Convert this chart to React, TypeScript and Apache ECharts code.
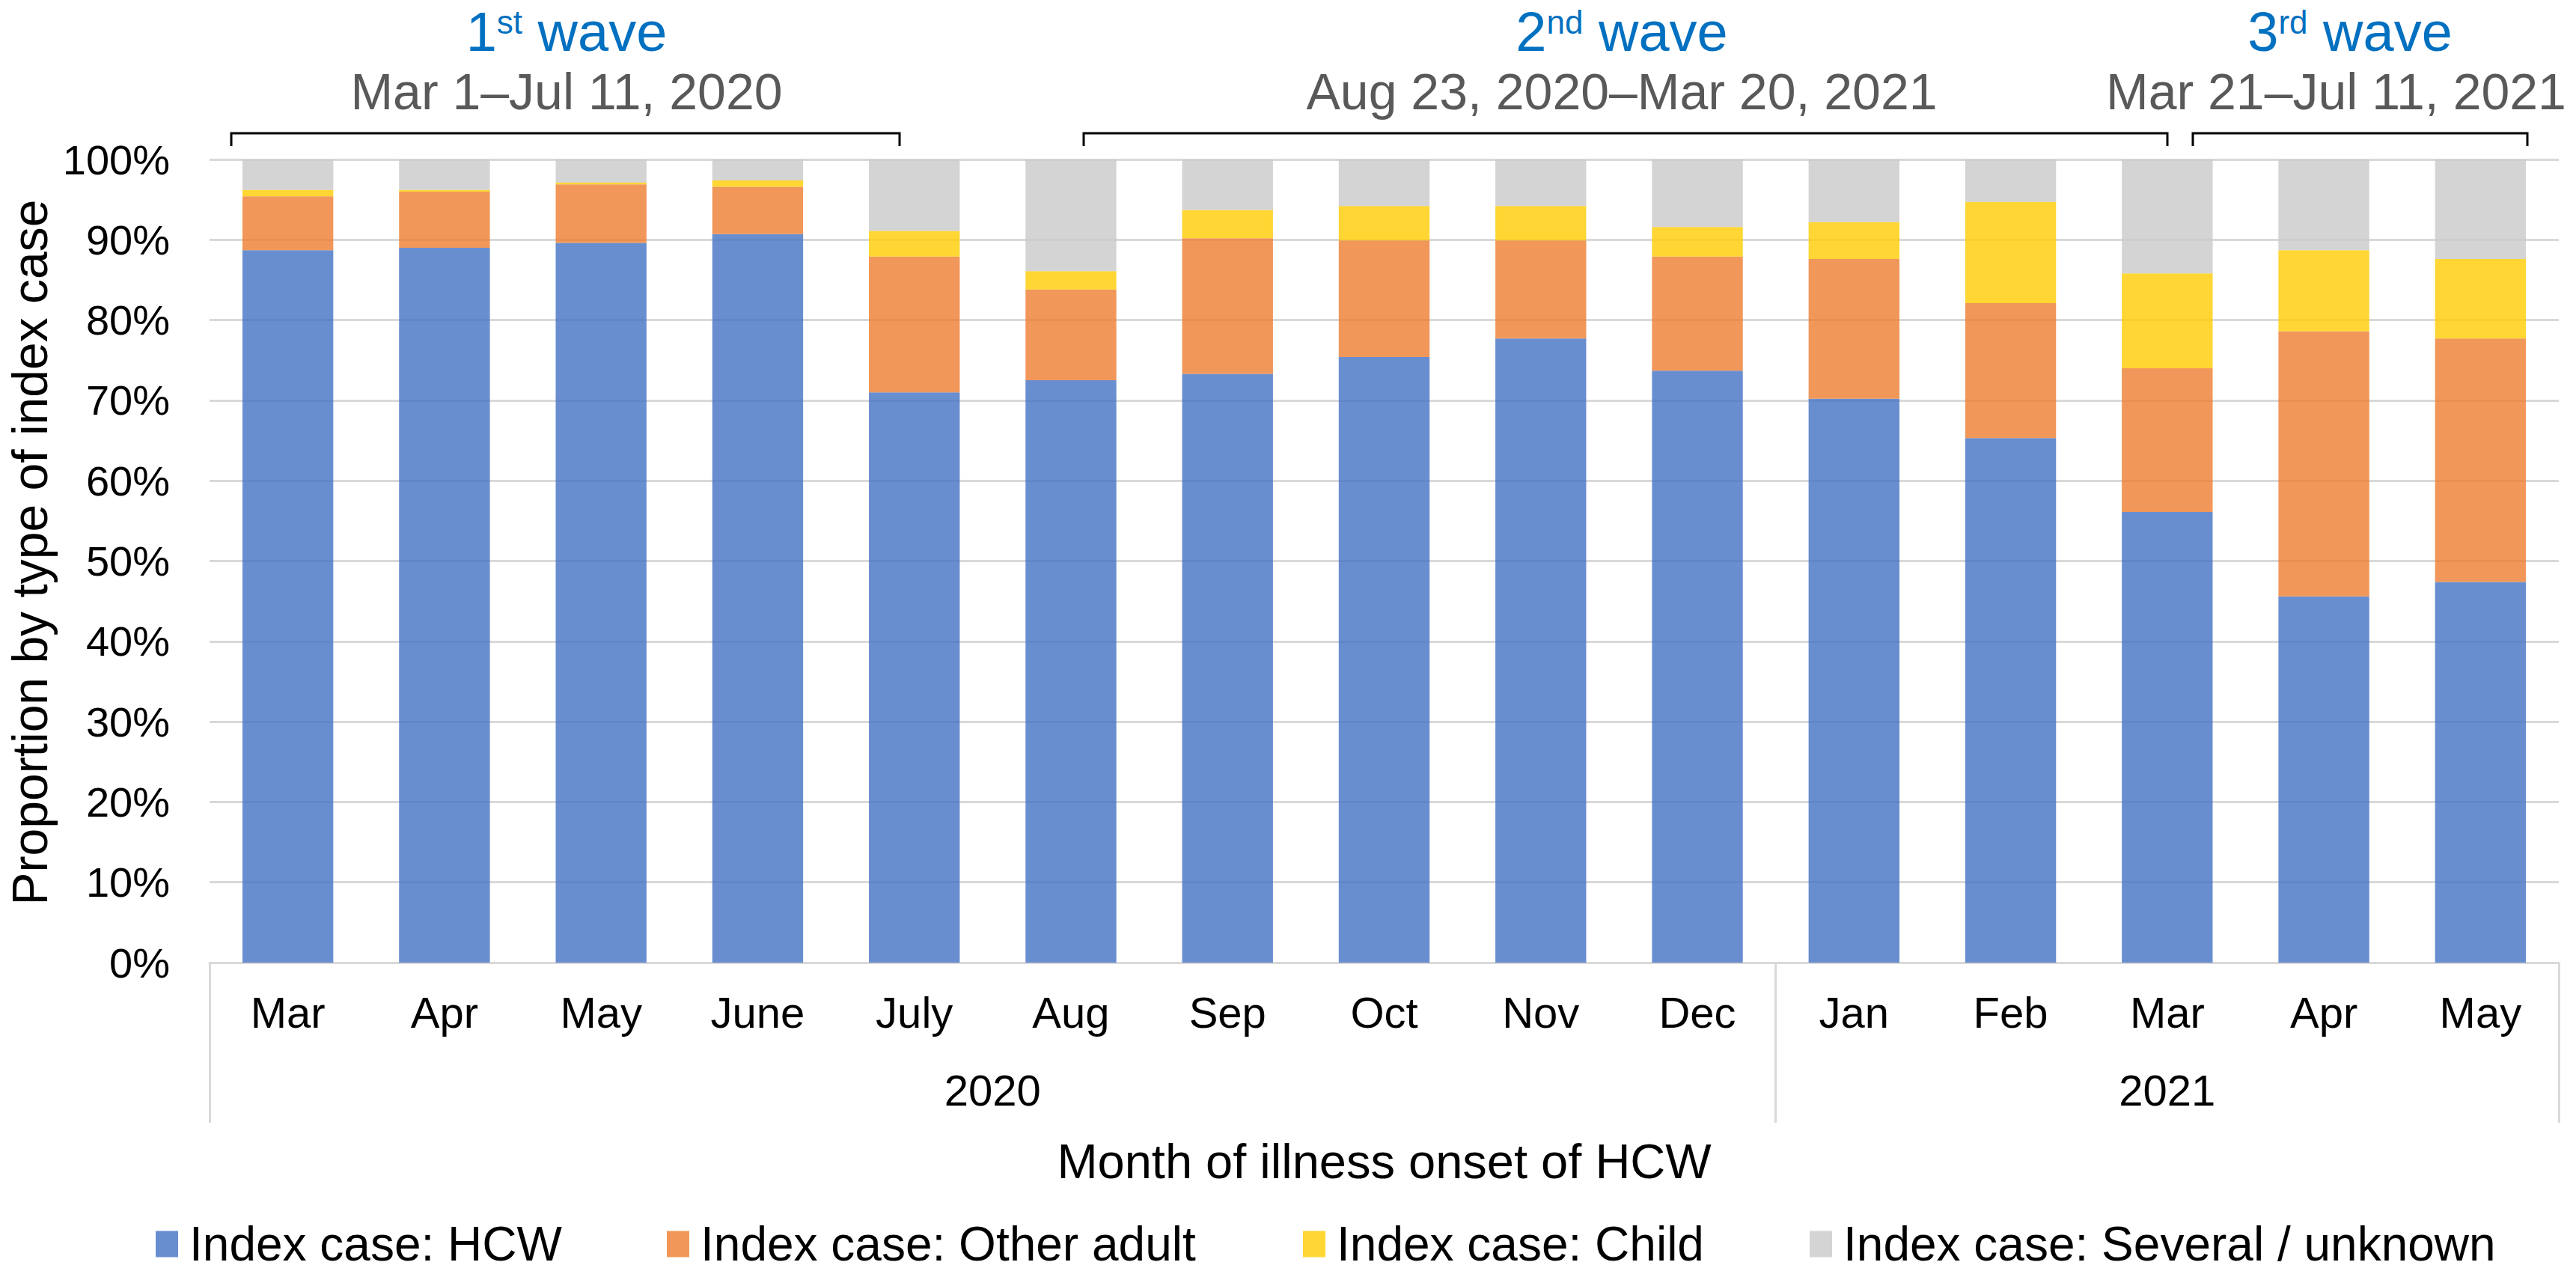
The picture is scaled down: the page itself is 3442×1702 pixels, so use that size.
import React, { useEffect, useRef } from "react";
import * as echarts from "echarts";

const FONT = "'Liberation Sans', Arial, Helvetica, sans-serif";

// Categories (month of illness onset) and their year grouping
const months = ["Mar", "Apr", "May", "June", "July", "Aug", "Sep", "Oct", "Nov", "Dec", "Jan", "Feb", "Mar", "Apr", "May"];
const yearLabels = ["2020", "2021"];
const monthsPerYear = [10, 5];

// Series values (percent of index cases)
const hcw = [88.7, 89.0, 89.6, 90.7, 71.0, 72.5, 73.3, 75.4, 77.7, 73.7, 70.2, 65.3, 56.1, 45.6, 47.4];
const otherAdult = [6.7, 7.0, 7.3, 5.9, 16.9, 11.3, 16.9, 14.5, 12.2, 14.2, 17.4, 16.8, 17.9, 33.0, 30.3];
const child = [0.8, 0.2, 0.2, 0.8, 3.2, 2.3, 3.5, 4.3, 4.3, 3.7, 4.6, 12.6, 11.8, 10.1, 9.9];
const severalUnknown = [3.8, 3.8, 2.9, 2.6, 8.9, 13.9, 6.3, 5.8, 5.8, 8.4, 7.8, 5.3, 14.2, 11.3, 12.4];

const seriesNames = ["Index case: HCW", "Index case: Other adult", "Index case: Child", "Index case: Several / unknown"];
const seriesColors = ["#4472C4", "#ED7D31", "#FFCC00", "#C9C9C9"];

const yTicks = { min: 0, max: 100, interval: 10 };
const xTitle = "Month of illness onset of HCW";
const yTitle = "Proportion by type of index case";

// Wave annotations
const waveOrdinals = ["1", "2", "3"];
const waveSuffixes = ["st", "nd", "rd"];
const waveRanges = ["Mar 1\u2013Jul 11, 2020", "Aug 23, 2020\u2013Mar 20, 2021", "Mar 21\u2013Jul 11, 2021"];

export default function App() {
  const ref = useRef<HTMLDivElement>(null);

  useEffect(() => {
    if (!ref.current) return;
    const chart = echarts.init(ref.current, null, { renderer: "svg" });

    // year group boundaries and centers on a 0..N value scale aligned to categories
    const bounds: number[] = [0];
    monthsPerYear.forEach((n) => bounds.push(bounds[bounds.length - 1] + n));
    const centers = monthsPerYear.map((n, i) => bounds[i] + n / 2);
    const total = bounds[bounds.length - 1];

    const data = [hcw, otherAdult, child, severalUnknown];

    const waveTitle = (i: number, x: number) => ({
      type: "text",
      x,
      y: 42,
      style: {
        text: `{n|${waveOrdinals[i]}}{s|${waveSuffixes[i]}}{n| wave}`,
        align: "center",
        verticalAlign: "middle",
        rich: {
          n: { fontSize: 74, lineHeight: 70, fontFamily: FONT, fill: "#0070C0" },
          s: { fontSize: 44, lineHeight: 44, fontFamily: FONT, fill: "#0070C0", verticalAlign: "top" },
        },
      },
    });
    const waveRange = (i: number, x: number, align: string) => ({
      type: "text",
      x,
      y: 122,
      style: {
        text: waveRanges[i],
        align,
        verticalAlign: "middle",
        fontSize: 68,
        fontFamily: FONT,
        fill: "#595959",
      },
    });
    const bracket = (x1: number, x2: number) => ({
      type: "polyline",
      shape: { points: [[x1, 195], [x1, 178], [x2, 178], [x2, 195]] },
      style: { stroke: "#000", lineWidth: 3, fill: null },
    });

    const legendLefts = [208, 891, 1741, 2418];

    const option: any = {
      animation: false,
      backgroundColor: "#fff",
      textStyle: { fontFamily: FONT },
      grid: { left: 280, right: 23, top: 213, bottom: 416 },
      xAxis: [
        {
          type: "category",
          data: months,
          axisTick: { show: false },
          axisLine: { show: true, lineStyle: { color: "#D9D9D9", width: 3 } },
          axisLabel: { interval: 0, fontSize: 58, color: "#000", margin: 37, fontFamily: FONT },
          name: xTitle,
          nameLocation: "middle",
          nameGap: 233,
          nameTextStyle: { fontSize: 65, color: "#000", fontFamily: FONT },
        },
        {
          type: "value",
          min: 0,
          max: total,
          position: "bottom",
          axisLine: { show: false },
          splitLine: { show: false },
          axisTick: {
            show: true,
            customValues: bounds,
            length: 214,
            lineStyle: { color: "#D9D9D9", width: 3 },
          },
          axisLabel: {
            customValues: centers,
            formatter: (v: number) => {
              const idx = centers.indexOf(v);
              return idx >= 0 ? yearLabels[idx] : "";
            },
            fontSize: 58,
            color: "#000",
            margin: 141,
            fontFamily: FONT,
          },
        },
      ],
      yAxis: {
        type: "value",
        min: yTicks.min,
        max: yTicks.max,
        interval: yTicks.interval,
        axisLine: { show: false },
        axisTick: { show: false },
        axisLabel: { formatter: "{value}%", fontSize: 56, color: "#000", margin: 53, fontFamily: FONT },
        splitLine: { show: true, lineStyle: { color: "#D9D9D9", width: 3 } },
      },
      legend: seriesNames.map((name, i) => ({
        left: legendLefts[i],
        top: 1627,
        padding: 0,
        itemWidth: 30,
        itemHeight: 35,
        icon: "rect",
        textStyle: { fontSize: 64, lineHeight: 70, color: "#000", fontFamily: FONT, padding: [0, 0, 0, 10] },
        data: [name],
      })),
      series: seriesNames.map((name, i) => ({
        name,
        type: "bar",
        stack: "total",
        xAxisIndex: 0,
        barCategoryGap: "42%",
        data: data[i],
        itemStyle: { color: seriesColors[i], opacity: 0.8 },
      })),
      graphic: [
        waveTitle(0, 757),
        waveRange(0, 757, "center"),
        waveTitle(1, 2167),
        waveRange(1, 2167, "center"),
        waveTitle(2, 3140),
        waveRange(2, 2814, "left"),
        bracket(309, 1202),
        bracket(1448, 2896),
        bracket(2930, 3377),
        {
          type: "text",
          x: 40,
          y: 738,
          rotation: Math.PI / 2,
          style: {
            text: yTitle,
            align: "center",
            verticalAlign: "middle",
            fontSize: 66,
            fontFamily: FONT,
            fill: "#000",
          },
        },
      ],
    };

    chart.setOption(option);
    return () => chart.dispose();
  }, []);

  return (
    <div
      ref={ref}
      style={{ position: "fixed", left: 0, top: 0, width: 3442, height: 1702, background: "#fff" }}
    />
  );
}
